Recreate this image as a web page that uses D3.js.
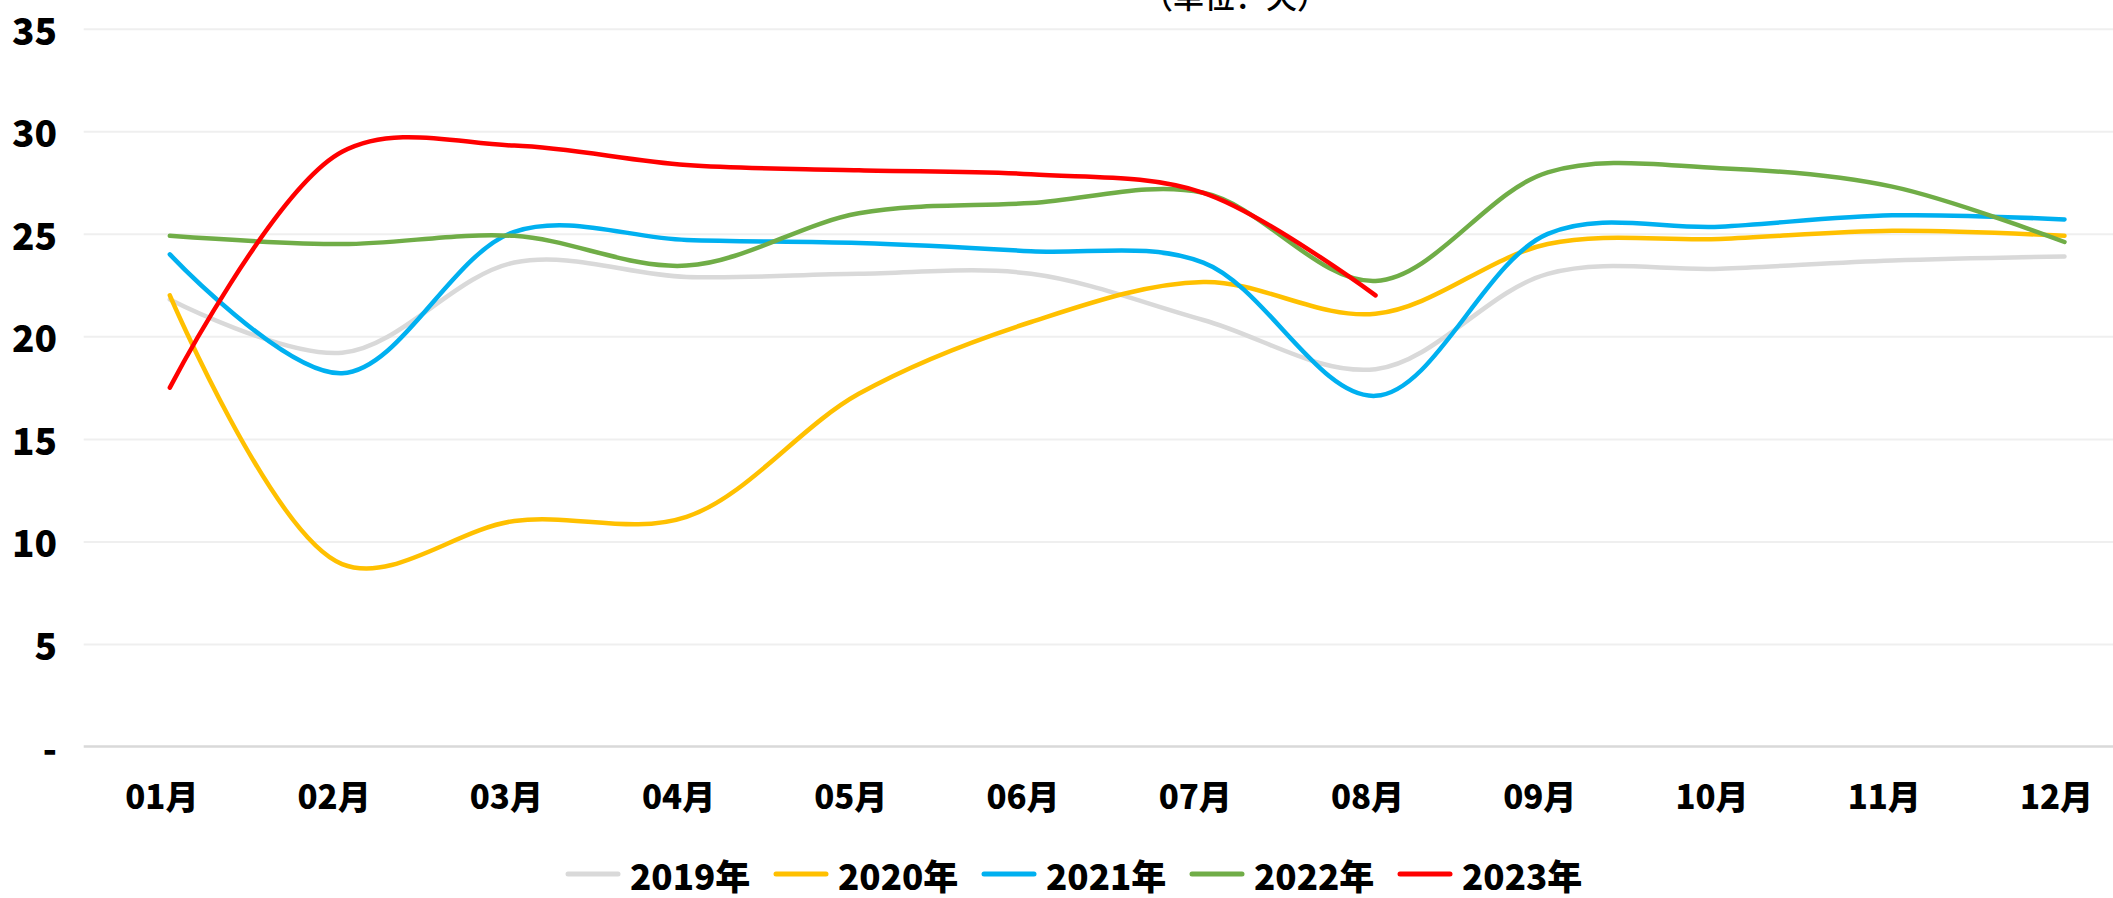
<!DOCTYPE html>
<html>
<head>
<meta charset="utf-8">
<script src="https://cdn.jsdelivr.net/npm/d3@7"></script>
<style>
  html, body { margin: 0; padding: 0; background: #fff; overflow: hidden; }
  text { font-family: "Noto Sans CJK SC", "Noto Sans", sans-serif; }
</style>
</head>
<body>
<svg id="svg"></svg>
<script>
const months = ['01月','02月','03月','04月','05月','06月','07月','08月','09月','10月','11月','12月'];
const years = ['2019年','2020年','2021年','2022年','2023年'];
const colors = ['#D9D9D9','#FFC000','#00B0F0','#70AD47','#FF0000'];

const v2019 = [21.8, 19.2, 23.6, 22.9, 23.05, 23.05, 20.8, 18.4, 23.05, 23.3, 23.7, 23.9];
const v2020 = [22.0, 8.9, 11.0, 11.2, 17.2, 20.7, 22.65, 21.1, 24.5, 24.75, 25.15, 24.9];
const v2021 = [24.0, 18.2, 25.1, 24.7, 24.55, 24.15, 23.6, 17.1, 25.0, 25.35, 25.9, 25.7];
const v2022 = [24.9, 24.5, 24.9, 23.45, 26.0, 26.5, 27.0, 22.7, 28.0, 28.2, 27.3, 24.6];
const v2023 = [17.5, 29.0, 29.3, 28.35, 28.1, 27.9, 27.0, 22.0];
const series = [v2019, v2020, v2021, v2022, v2023];

const yTicks = [0, 5, 10, 15, 20, 25, 30, 35];
const title = '（单位：天）';

const W = 2113, H = 898;
const svg = d3.select('#svg').attr('width', W).attr('height', H);

const x = d3.scaleBand().domain(months).range([83.7, 2150.6]).padding(0);
const cx = d => x(d) + x.bandwidth() / 2;
const y = d3.scaleLinear().domain([0, 35]).range([746.6, 28.7]);

// gridlines
svg.append('g')
  .attr('transform', `translate(${x.range()[0]},0)`)
  .call(d3.axisLeft(y).tickValues(yTicks.slice(1)).tickSize(-(x.range()[1] - x.range()[0])).tickFormat(''))
  .call(g => g.select('.domain').remove())
  .call(g => g.selectAll('line').attr('stroke', '#EFEFEF').attr('stroke-width', 2));

// x axis line
svg.append('line')
  .attr('x1', x.range()[0]).attr('x2', W)
  .attr('y1', y(0)).attr('y2', y(0))
  .attr('stroke', '#D9D9D9').attr('stroke-width', 2.5);

// y labels
svg.append('g').selectAll('text')
  .data(yTicks)
  .enter().append('text')
  .attr('x', 57)
  .attr('y', d => y(d))
  .attr('text-anchor', 'end')
  .attr('dominant-baseline', 'central')
  .style('font-size', '37px')
  .style('font-weight', 900)
  .text(d => d === 0 ? '-' : d);

// x labels
svg.append('g').selectAll('text')
  .data(months)
  .enter().append('text')
  .attr('x', d => cx(d) - 8)
  .attr('y', 795)
  .attr('text-anchor', 'middle')
  .attr('dominant-baseline', 'central')
  .style('font-size', '33px')
  .style('font-weight', 900)
  .text(d => d);

// lines
const line = d3.line()
  .x((_, i) => cx(months[i]))
  .y(d => y(d))
  .curve(d3.curveCatmullRom.alpha(0.5));

svg.append('g').selectAll('path')
  .data(series)
  .enter().append('path')
  .attr('d', d => line(d))
  .attr('fill', 'none')
  .attr('stroke', (_, i) => colors[i])
  .attr('stroke-width', 4.5)
  .attr('stroke-linecap', 'round')
  .attr('stroke-linejoin', 'round');

// title (cut off at top, as in the source)
svg.append('text')
  .attr('x', 1235)
  .attr('y', 8)
  .attr('text-anchor', 'middle')
  .style('font-size', '31px')
  .style('font-weight', 500)
  .text(title);

// legend
const legend = svg.append('g').selectAll('g')
  .data(years)
  .enter().append('g')
  .attr('transform', (_, i) => `translate(${566 + i * 208},874)`);

legend.append('line')
  .attr('x1', 2).attr('x2', 52)
  .attr('y1', 0).attr('y2', 0)
  .attr('stroke', (_, i) => colors[i])
  .attr('stroke-width', 5)
  .attr('stroke-linecap', 'round');

legend.append('text')
  .attr('x', 64)
  .attr('y', 0)
  .attr('dominant-baseline', 'central')
  .style('font-size', '35px')
  .style('font-weight', 900)
  .text(d => d);
</script>
</body>
</html>
